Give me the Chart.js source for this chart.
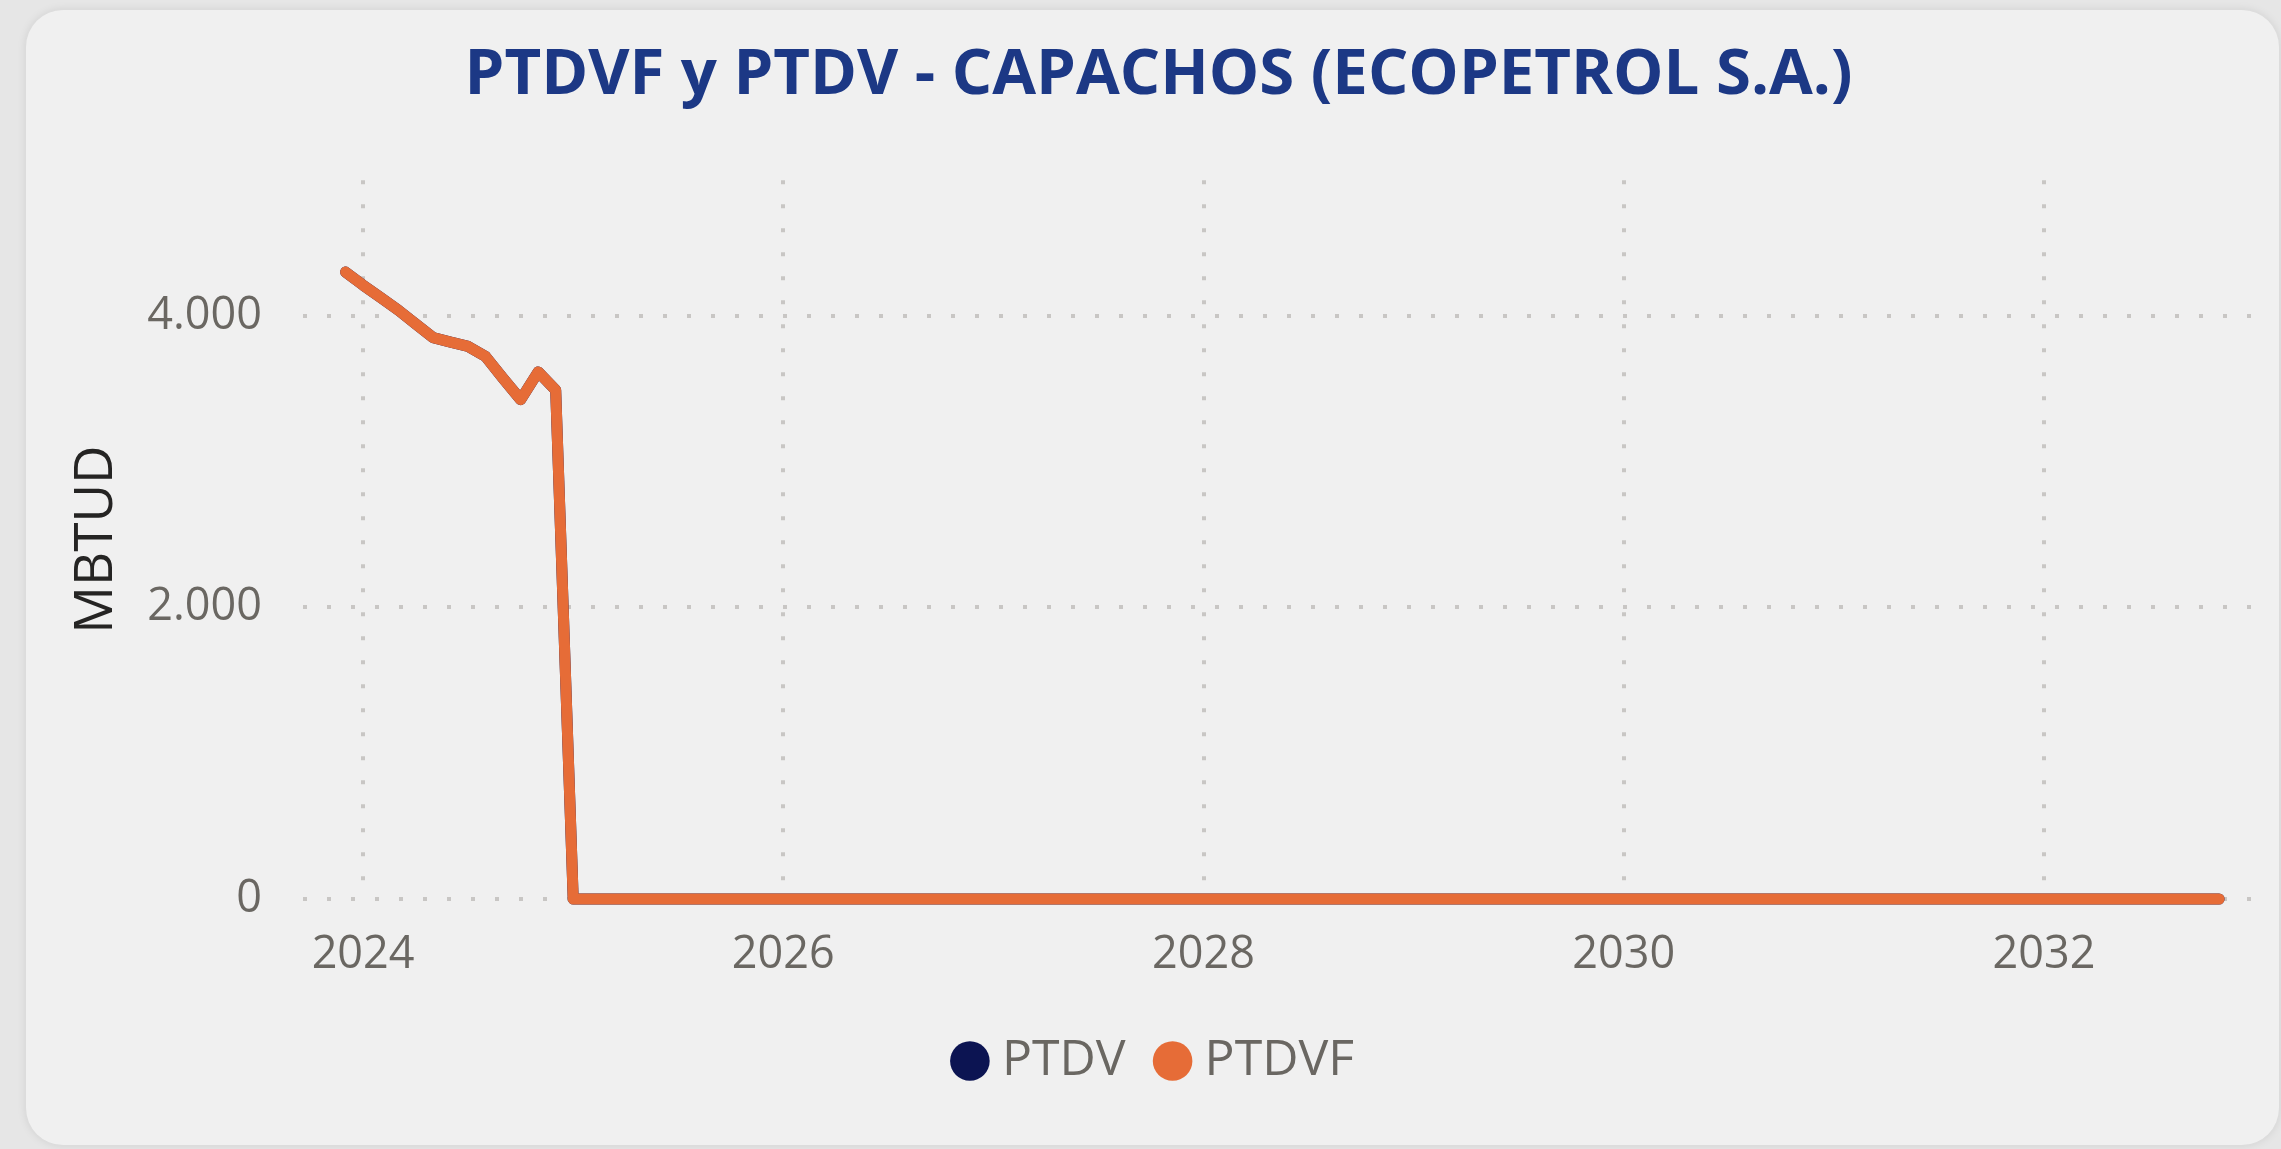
<!DOCTYPE html>
<html>
<head>
<meta charset="utf-8">
<script src="https://cdn.jsdelivr.net/npm/chart.js@4.4.1/dist/chart.umd.min.js"></script>
<style>
  html, body { margin: 0; padding: 0; width: 2281px; height: 1149px; overflow: hidden; background: #e6e6e6; }
  .card { position: absolute; left: 26px; top: 10px; width: 2253px; height: 1135px; background: #f0f0f0; border-radius: 37px; box-shadow: 0 0 10px rgba(0, 0, 0, 0.10); }
  #chart { position: absolute; left: 40px; top: 0; }
</style>
</head>
<body>
<div class="card"></div>
<canvas id="chart" width="2241" height="1149"></canvas>
<script>
const periods = [
    '2023-12',
    '2024-01', '2024-02', '2024-03', '2024-04', '2024-05', '2024-06', '2024-07', '2024-08', '2024-09', '2024-10', '2024-11', '2024-12',
    '2025-01', '2025-02', '2025-03', '2025-04', '2025-05', '2025-06', '2025-07', '2025-08', '2025-09', '2025-10', '2025-11', '2025-12',
    '2026-01', '2026-02', '2026-03', '2026-04', '2026-05', '2026-06', '2026-07', '2026-08', '2026-09', '2026-10', '2026-11', '2026-12',
    '2027-01', '2027-02', '2027-03', '2027-04', '2027-05', '2027-06', '2027-07', '2027-08', '2027-09', '2027-10', '2027-11', '2027-12',
    '2028-01', '2028-02', '2028-03', '2028-04', '2028-05', '2028-06', '2028-07', '2028-08', '2028-09', '2028-10', '2028-11', '2028-12',
    '2029-01', '2029-02', '2029-03', '2029-04', '2029-05', '2029-06', '2029-07', '2029-08', '2029-09', '2029-10', '2029-11', '2029-12',
    '2030-01', '2030-02', '2030-03', '2030-04', '2030-05', '2030-06', '2030-07', '2030-08', '2030-09', '2030-10', '2030-11', '2030-12',
    '2031-01', '2031-02', '2031-03', '2031-04', '2031-05', '2031-06', '2031-07', '2031-08', '2031-09', '2031-10', '2031-11', '2031-12',
    '2032-01', '2032-02', '2032-03', '2032-04', '2032-05', '2032-06', '2032-07', '2032-08', '2032-09', '2032-10', '2032-11'
];

// PTDVF (MBTUD) por mes
const ptdvf = [
    4300,
    4210, 4125, 4040, 3945, 3850, 3820, 3790, 3720, 3570, 3425, 3615, 3490,
    0, 0, 0, 0, 0, 0, 0, 0, 0, 0, 0, 0,
    0, 0, 0, 0, 0, 0, 0, 0, 0, 0, 0, 0,
    0, 0, 0, 0, 0, 0, 0, 0, 0, 0, 0, 0,
    0, 0, 0, 0, 0, 0, 0, 0, 0, 0, 0, 0,
    0, 0, 0, 0, 0, 0, 0, 0, 0, 0, 0, 0,
    0, 0, 0, 0, 0, 0, 0, 0, 0, 0, 0, 0,
    0, 0, 0, 0, 0, 0, 0, 0, 0, 0, 0, 0,
    0, 0, 0, 0, 0, 0, 0, 0, 0, 0, 0
];

// PTDV queda tapada por PTDVF (mismos valores)
const ptdv = [
    4300,
    4210, 4125, 4040, 3945, 3850, 3820, 3790, 3720, 3570, 3425, 3615, 3490,
    0, 0, 0, 0, 0, 0, 0, 0, 0, 0, 0, 0,
    0, 0, 0, 0, 0, 0, 0, 0, 0, 0, 0, 0,
    0, 0, 0, 0, 0, 0, 0, 0, 0, 0, 0, 0,
    0, 0, 0, 0, 0, 0, 0, 0, 0, 0, 0, 0,
    0, 0, 0, 0, 0, 0, 0, 0, 0, 0, 0, 0,
    0, 0, 0, 0, 0, 0, 0, 0, 0, 0, 0, 0,
    0, 0, 0, 0, 0, 0, 0, 0, 0, 0, 0, 0,
    0, 0, 0, 0, 0, 0, 0, 0, 0, 0, 0
];

const xTicks = [2024, 2026, 2028, 2030, 2032];
const yTicks = [0, 2000, 4000];

const FONT = '"Segoe UI", "Open Sans", sans-serif';
const GRID = '#c8c6c4';
const TICK_COLOR = '#6a6762';

function toYear(p) {
    const [y, m] = p.split('-').map(Number);
    return y + (m - 1) / 12;
}

function points(values) {
    return periods.map((p, i) => ({ x: toYear(p), y: values[i] }));
}

function formatThousands(v) {
    return String(v).replace(/\B(?=(\d{3})+(?!\d))/g, '.');
}

Chart.defaults.font.family = FONT;

new Chart(document.getElementById('chart'), {
    type: 'line',
    data: {
        datasets: [{
            label: 'PTDV',
            data: points(ptdv),
            borderColor: '#0c1452',
            backgroundColor: '#0c1452',
            borderWidth: 11,
            pointRadius: 0,
            tension: 0,
            order: 1,
            clip: false,
            borderJoinStyle: 'round',
            borderCapStyle: 'round'
        }, {
            label: 'PTDVF',
            data: points(ptdvf),
            borderColor: '#e66c37',
            backgroundColor: '#e66c37',
            borderWidth: 11,
            pointRadius: 0,
            tension: 0,
            order: 0,
            clip: false,
            borderJoinStyle: 'round',
            borderCapStyle: 'round'
        }]
    },
    options: {
        responsive: false,
        animation: false,
        layout: { padding: { left: 25, right: 29, top: 0, bottom: 53 } },
        scales: {
            x: {
                type: 'linear',
                min: 2023.714,
                max: 2032.99,
                afterBuildTicks: (s) => { s.ticks = xTicks.map(v => ({ value: v })); },
                afterFit: (s) => { s.height = 97; },
                border: { display: false, dash: [4, 20] },
                grid: { color: GRID, lineWidth: 4, drawTicks: false },
                ticks: {
                    color: TICK_COLOR,
                    font: { size: 45 },
                    padding: 29,
                    maxRotation: 0,
                    callback: (v) => String(v)
                }
            },
            y: {
                min: 0,
                max: 4930,
                afterBuildTicks: (s) => { s.ticks = yTicks.map(v => ({ value: v })); },
                afterFit: (s) => { s.width = 238; },
                border: { display: false, dash: [4, 20] },
                grid: { color: GRID, lineWidth: 4, drawTicks: false },
                title: {
                    display: true,
                    text: 'MBTUD',
                    color: '#252423',
                    font: { size: 53 },
                    padding: 0
                },
                ticks: {
                    color: TICK_COLOR,
                    font: { size: 45 },
                    padding: 41,
                    callback: (v) => formatThousands(v)
                }
            }
        },
        plugins: {
            title: {
                display: true,
                text: 'PTDVF y PTDV - CAPACHOS (ECOPETROL S.A.)',
                color: '#1c3885',
                font: { size: 63.5, weight: 'bold' },
                padding: { top: 38, bottom: 66 }
            },
            legend: {
                position: 'bottom',
                labels: {
                    color: TICK_COLOR,
                    font: { size: 50 },
                    usePointStyle: true,
                    pointStyle: 'circle',
                    boxWidth: 14,
                    boxHeight: 28,
                    padding: 40,
                    sort: (a, b) => a.datasetIndex - b.datasetIndex,
                    generateLabels: (chart) => Chart.defaults.plugins.legend.labels.generateLabels(chart)
                        .map(l => ({ ...l, lineWidth: 0 }))
                }
            },
            tooltip: { enabled: false }
        }
    }
});
</script>
</body>
</html>
